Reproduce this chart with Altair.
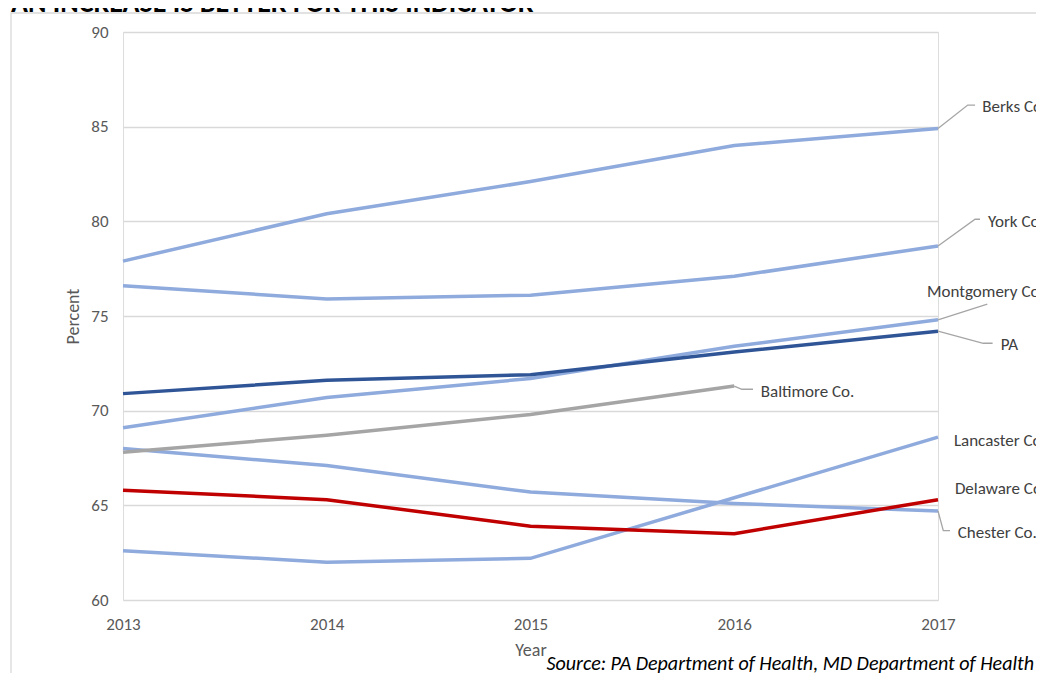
import altair as alt
import pandas as pd

years = [2013, 2014, 2015, 2016, 2017]
berks = [77.9, 80.4, 82.1, 84.0, 84.9]
york = [76.6, 75.9, 76.1, 77.1, 78.7]
montgomery = [69.1, 70.7, 71.7, 73.4, 74.8]
lancaster = [62.6, 62.0, 62.2, 65.4, 68.6]
chester = [68.0, 67.1, 65.7, 65.1, 64.7]
baltimore = [67.8, 68.7, 69.8, 71.3, None]
delaware = [65.8, 65.3, 63.9, 63.5, 65.3]
pa = [70.9, 71.6, 71.9, 73.1, 74.2]

series_names = ["Berks Co.", "York Co.", "Montgomery Co.", "Lancaster Co.", "Chester Co.",
                "Baltimore Co.", "Delaware Co.", "PA"]
series_values = [berks, york, montgomery, lancaster, chester, baltimore, delaware, pa]
series_colors = ["#8FAADC", "#8FAADC", "#8FAADC", "#8FAADC", "#8FAADC",
                 "#A5A5A5", "#C00000", "#2F5597"]

# label text and label anchor (in data units: year, percent)
label_names = ["Berks Co.", "York Co.", "Montgomery Co.", "PA", "Baltimore Co.",
               "Lancaster Co.", "Delaware Co.", "Chester Co."]
label_x = [2017.217, 2017.245, 2016.946, 2017.308, 2016.130, 2017.078, 2017.083, 2017.097]
label_y = [86.05, 79.98, 76.28, 73.47, 71.0, 68.42, 65.85, 63.55]

# leader lines (in data units)
leader_names = ["Berks Co.", "York Co.", "Montgomery Co.", "PA", "Baltimore Co.", "Chester Co."]
leader_x = [[2017, 2017.146, 2017.182],
            [2017, 2017.182, 2017.206],
            [2017, 2017.242],
            [2017, 2017.222, 2017.268],
            [2016, 2016.037, 2016.092],
            [2017, 2017.026, 2017.059]]
leader_y = [[84.9, 86.14, 86.14],
            [78.7, 80.11, 80.11],
            [74.8, 75.63],
            [74.2, 73.56, 73.56],
            [71.3, 71.13, 71.13],
            [64.7, 63.66, 63.66]]

title_text = "AN INCREASE IS BETTER FOR THIS INDICATOR"
source_text = "Source: PA Department of Health, MD Department of Health"

FONT = "Carlito, Lato, sans-serif"

rows = []
for name, vals in zip(series_names, series_values):
    for i, (yr, v) in enumerate(zip(years, vals)):
        if v is not None:
            rows.append({"name": name, "year": yr, "value": v, "i": i})
df = pd.DataFrame(rows)

lrows = []
for name, xs, ys in zip(leader_names, leader_x, leader_y):
    for i, (a, b) in enumerate(zip(xs, ys)):
        lrows.append({"name": name, "year": a, "value": b, "i": i})
ldf = pd.DataFrame(lrows)

tdf = pd.DataFrame({"name": label_names, "year": label_x, "value": label_y})

W, H = 815, 568
xscale = alt.Scale(domain=[2013, 2017], nice=False, zero=False)
yscale = alt.Scale(domain=[60, 90], nice=False, zero=False)

frame = alt.Chart(pd.DataFrame({"a": [0]})).mark_rect(
    filled=False, stroke="#D9D9D9", strokeWidth=1.3
).encode(x=alt.value(-112), x2=alt.value(960), y=alt.value(-19), y2=alt.value(720))

title = alt.Chart(pd.DataFrame({"t": [title_text]})).mark_text(
    align="left", baseline="alphabetic", font=FONT, fontSize=28, fontWeight="bold", color="#000000"
).encode(text="t:N", x=alt.value(-112), y=alt.value(-20))

lines = alt.Chart(df).mark_line(strokeWidth=3.5).encode(
    x=alt.X("year:Q", scale=xscale,
            axis=alt.Axis(values=years, format="d", title="Year", grid=False, ticks=False,
                          domain=False, labelFlush=False, labelPadding=16,
                          labelFont=FONT, labelFontSize=17, labelColor="#595959",
                          titleFont=FONT, titleFontSize=18, titleColor="#595959",
                          titleFontWeight="normal", titleBaseline="middle", titleY=50)),
    y=alt.Y("value:Q", scale=yscale,
            axis=alt.Axis(values=[60, 65, 70, 75, 80, 85, 90], title="Percent", grid=True,
                          gridColor="#D9D9D9", gridWidth=1.5, ticks=False, domain=False,
                          labelPadding=15, labelFont=FONT, labelFontSize=17,
                          labelColor="#595959", titleFont=FONT, titleFontSize=18,
                          titleColor="#595959", titleFontWeight="normal",
                          titleBaseline="middle", titleX=-50, titleY=284, titleAngle=-90)),
    color=alt.Color("name:N", scale=alt.Scale(domain=series_names, range=series_colors),
                    legend=None, sort=series_names),
    order="i:Q",
)

leaders = alt.Chart(ldf).mark_line(strokeWidth=1.3, color="#A5A5A5").encode(
    x=alt.X("year:Q", scale=xscale),
    y=alt.Y("value:Q", scale=yscale),
    detail="name:N",
    order="i:Q",
)

labels = alt.Chart(tdf).mark_text(
    align="left", baseline="middle", font=FONT, fontSize=17, color="#404040"
).encode(
    x=alt.X("year:Q", scale=xscale),
    y=alt.Y("value:Q", scale=yscale),
    text="name:N",
)

source = alt.Chart(pd.DataFrame({"t": [source_text]})).mark_text(
    align="right", baseline="middle", font=FONT, fontSize=20, fontStyle="italic", color="#000000"
).encode(text="t:N", x=alt.value(911), y=alt.value(632))

chart = alt.layer(frame, title, lines, leaders, labels, source).properties(
    width=W, height=H,
    autosize=alt.AutoSizeParams(type="none"),
    padding={"left": 115, "top": 24, "right": 98, "bottom": 73},
).configure_view(stroke=None).configure(background="#FFFFFF")

chart.save("out.html", embed_options={"renderer": "svg", "actions": False})
